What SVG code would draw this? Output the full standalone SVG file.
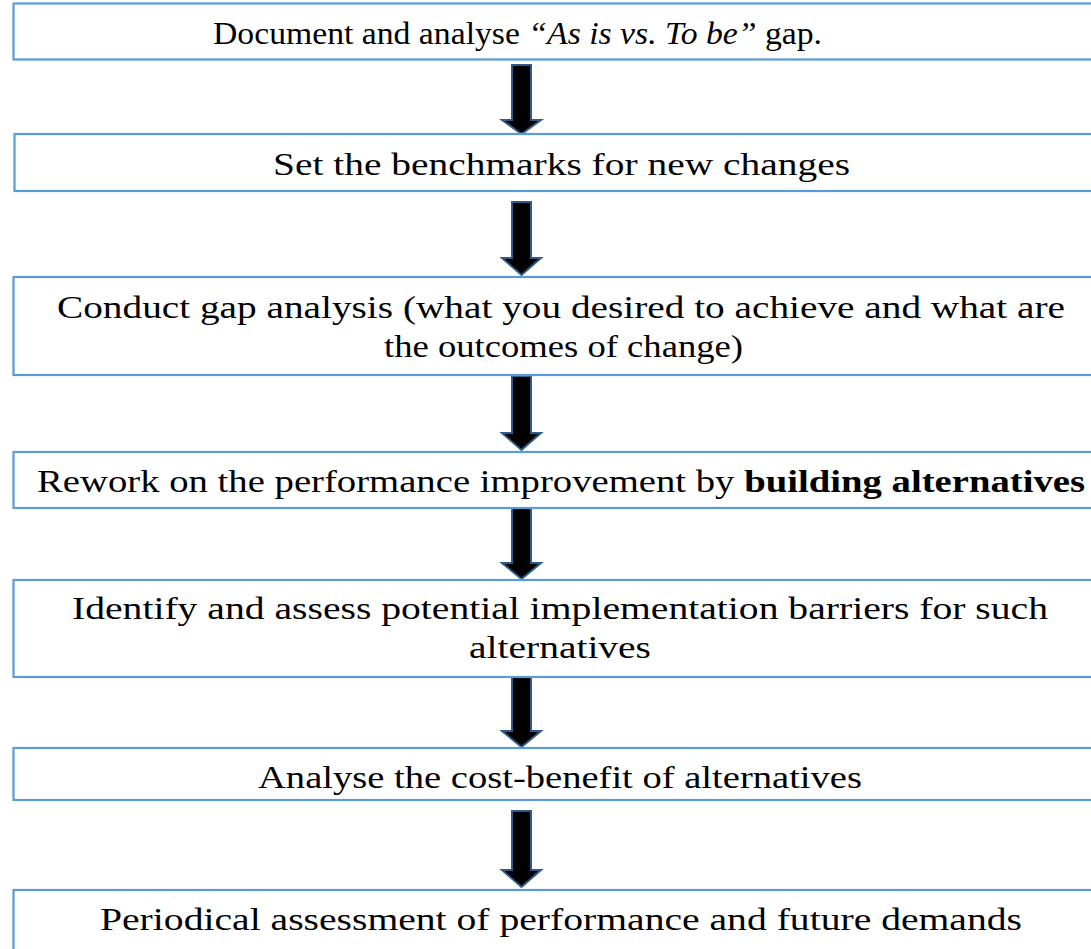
<svg xmlns="http://www.w3.org/2000/svg" width="1091" height="949" viewBox="0 0 1091 949">
<style>
.box{fill:#fff;stroke:#5b9bd5;stroke-width:2.2}
.t{font-family:"Liberation Serif","DejaVu Serif",serif;font-size:31px;fill:#000;text-anchor:middle}
.arr{fill:#000;stroke:#2f5b8a;stroke-width:2;stroke-linejoin:miter}
</style>
<rect width="1091" height="949" fill="#fff"/>
<g id="connectors">
<path class="arr" d="M512,65H531V120H541L521.5,134L502,120H512Z"/>
<path class="arr" d="M512,202H531V258H541L521.5,275L502,258H512Z"/>
<path class="arr" d="M512,376H531V433H541L521.5,450L502,433H512Z"/>
<path class="arr" d="M512,508H531V563H541L521.5,579L502,563H512Z"/>
<path class="arr" d="M512,674H531V731H541L521.5,747L502,731H512Z"/>
<path class="arr" d="M512,811H531V870H541L521.5,887L502,870H512Z"/>
</g>
<g id="n1"><rect class="box" x="13.5" y="3.5" width="1100" height="56"/>
<text class="t" x="517.5" y="44" textLength="609" lengthAdjust="spacingAndGlyphs">Document and analyse <tspan font-style="italic">“As is vs. To be”</tspan> gap.</text></g>
<g id="n2"><rect class="box" x="14.5" y="134" width="1100" height="57"/>
<text class="t" x="561.5" y="175" textLength="577" lengthAdjust="spacingAndGlyphs">Set the benchmarks for new changes</text></g>
<g id="n3"><rect class="box" x="13.5" y="277" width="1100" height="98"/>
<text class="t" x="561" y="318" textLength="1008" lengthAdjust="spacingAndGlyphs">Conduct gap analysis (what you desired to achieve and what are</text>
<text class="t" x="563.5" y="357" textLength="359" lengthAdjust="spacingAndGlyphs">the outcomes of change)</text></g>
<g id="n4"><rect class="box" x="13.5" y="452" width="1100" height="56"/>
<text class="t" x="561" y="492" textLength="1048" lengthAdjust="spacingAndGlyphs">Rework on the performance improvement by <tspan font-weight="bold">building alternatives</tspan></text></g>
<g id="n5"><rect class="box" x="13.5" y="580" width="1100" height="97"/>
<text class="t" x="560" y="619" textLength="976" lengthAdjust="spacingAndGlyphs">Identify and assess potential implementation barriers for such</text>
<text class="t" x="560" y="658" textLength="182" lengthAdjust="spacingAndGlyphs">alternatives</text></g>
<g id="n6"><rect class="box" x="13.5" y="748" width="1100" height="52"/>
<text class="t" x="560" y="788" textLength="604" lengthAdjust="spacingAndGlyphs">Analyse the cost-benefit of alternatives</text></g>
<g id="n7"><rect class="box" x="13.5" y="890" width="1100" height="80"/>
<text class="t" x="561" y="930" textLength="922" lengthAdjust="spacingAndGlyphs">Periodical assessment of performance and future demands</text></g>
</svg>
